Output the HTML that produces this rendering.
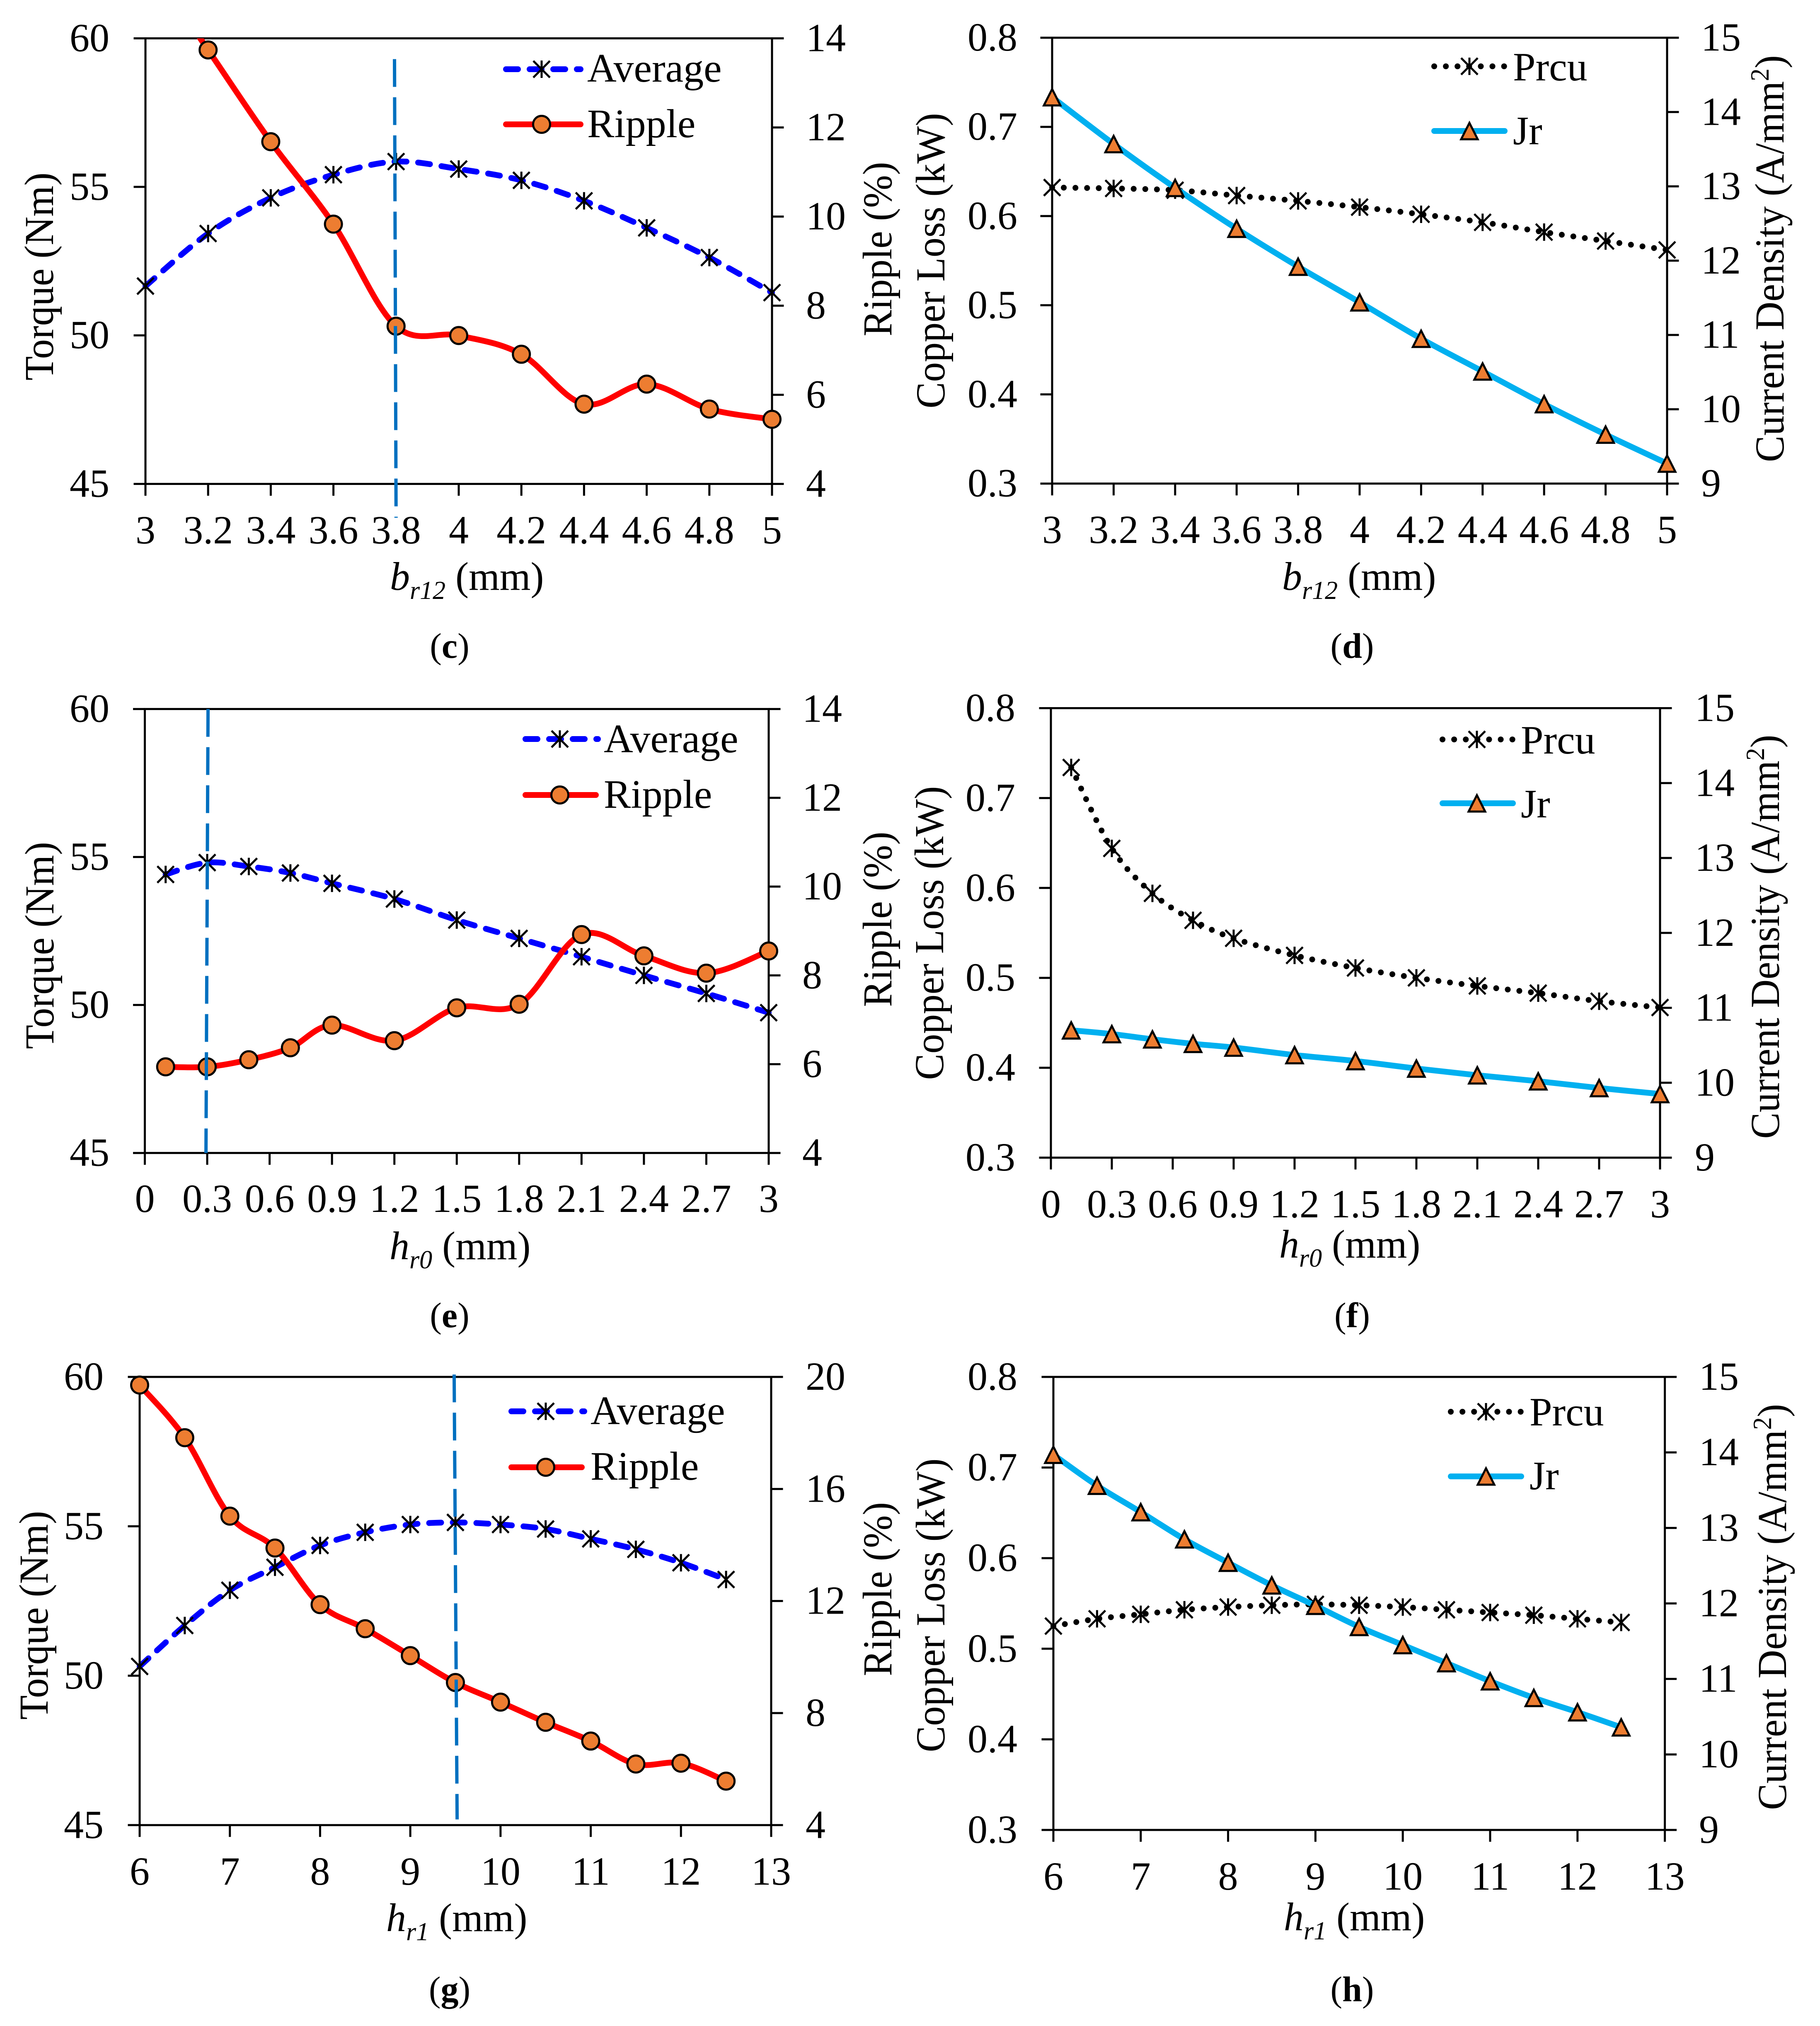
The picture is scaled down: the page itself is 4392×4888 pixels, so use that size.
<!DOCTYPE html>
<html lang="en">
<head>
<meta charset="utf-8">
<title>Torque, ripple, copper loss and current density parameter sweeps</title>
<style>
html,body{margin:0;padding:0;background:#fff}
svg{display:block}
text{font-family:"Liberation Serif",serif;fill:#000}
.t{font-size:96px}
.tt{font-size:100px}
.lg{font-size:98px}
.cap{font-size:86px}
.i{font-style:italic}
.b{font-weight:700}
</style>
</head>
<body>
<svg id="figure" xmlns="http://www.w3.org/2000/svg" width="4392" height="4888" viewBox="0 0 4392 4888">
<rect width="4392" height="4888" fill="#fff"/>

<g id="panel-c">
  <text class="tt" transform="translate(128,667) rotate(-90)" text-anchor="middle" textLength="502" lengthAdjust="spacingAndGlyphs">Torque (Nm)</text>
  <text class="tt" transform="translate(2151,601) rotate(-90)" text-anchor="middle" textLength="421" lengthAdjust="spacingAndGlyphs">Ripple (%)</text>
  <text class="t" x="941" y="1423"><tspan class="i">b</tspan><tspan class="i" font-size="62" dy="22">r12</tspan><tspan dy="-22"> (mm)</tspan></text>
  <text class="cap" x="1085" y="1587" text-anchor="middle">(<tspan class="b">c</tspan>)</text>
  <g>
    <line x1="1221" x2="1401" y1="167" y2="167" stroke="#0000ff" stroke-width="14" stroke-linecap="round" stroke-dasharray="29 28"/>
    <path transform="translate(1307,167)" d="M-20,-20L20,20M20,-20L-20,20M0,-21V21" stroke="#000" stroke-width="5" fill="none"/>
    <text class="lg" x="1417" y="197">Average</text>
    <line x1="1221" x2="1401" y1="300" y2="300" stroke="#ff0000" stroke-width="14" stroke-linecap="round"/>
    <circle cx="1307" cy="300" r="20.5" fill="#ed7d31" stroke="#000" stroke-width="5"/>
    <text class="lg" x="1417" y="331">Ripple</text>
  </g>
</g>

<g id="panel-d">
  <text class="tt" transform="translate(2279,629) rotate(-90)" text-anchor="middle" textLength="713" lengthAdjust="spacingAndGlyphs">Copper Loss (kW)</text>
  <text class="tt" transform="translate(4304,624) rotate(-90)" text-anchor="middle" textLength="982" lengthAdjust="spacingAndGlyphs">Current Density (A/mm<tspan font-size="64" dy="-36">2</tspan><tspan dy="36">)</tspan></text>
  <text class="t" x="3094" y="1423"><tspan class="i">b</tspan><tspan class="i" font-size="62" dy="22">r12</tspan><tspan dy="-22"> (mm)</tspan></text>
  <text class="cap" x="3263" y="1587" text-anchor="middle">(<tspan class="b">d</tspan>)</text>
  <g>
    <line x1="3461" x2="3634" y1="160" y2="160" stroke="#000" stroke-width="14" stroke-linecap="round" stroke-dasharray="0.1 28"/>
    <path transform="translate(3546,160)" d="M-20,-20L20,20M20,-20L-20,20M0,-21V21" stroke="#000" stroke-width="5" fill="none"/>
    <text class="lg" x="3651" y="194">Prcu</text>
    <line x1="3461" x2="3631" y1="316" y2="316" stroke="#00b0f0" stroke-width="14" stroke-linecap="round"/>
    <polygon transform="translate(3546,316)" points="0,-19.5 20,20 -20,20" fill="#ed7d31" stroke="#000" stroke-width="5"/>
    <text class="lg" x="3651" y="348">Jr</text>
  </g>
</g>

<g id="panel-e">
  <text class="tt" transform="translate(129,2281) rotate(-90)" text-anchor="middle" textLength="500" lengthAdjust="spacingAndGlyphs">Torque (Nm)</text>
  <text class="tt" transform="translate(2151,2218) rotate(-90)" text-anchor="middle" textLength="423" lengthAdjust="spacingAndGlyphs">Ripple (%)</text>
  <text class="t" x="940" y="3038"><tspan class="i">h</tspan><tspan class="i" font-size="62" dy="22">r0</tspan><tspan dy="-22"> (mm)</tspan></text>
  <text class="cap" x="1085" y="3202" text-anchor="middle">(<tspan class="b">e</tspan>)</text>
  <g>
    <line x1="1268" x2="1443" y1="1783" y2="1783" stroke="#0000ff" stroke-width="14" stroke-linecap="round" stroke-dasharray="29 28"/>
    <path transform="translate(1351,1783)" d="M-20,-20L20,20M20,-20L-20,20M0,-21V21" stroke="#000" stroke-width="5" fill="none"/>
    <text class="lg" x="1457" y="1815">Average</text>
    <line x1="1268" x2="1438" y1="1918" y2="1918" stroke="#ff0000" stroke-width="14" stroke-linecap="round"/>
    <circle cx="1351" cy="1918" r="20.5" fill="#ed7d31" stroke="#000" stroke-width="5"/>
    <text class="lg" x="1457" y="1949">Ripple</text>
  </g>
</g>

<g id="panel-f">
  <text class="tt" transform="translate(2276,2251) rotate(-90)" text-anchor="middle" textLength="709" lengthAdjust="spacingAndGlyphs">Copper Loss (kW)</text>
  <text class="tt" transform="translate(4293,2260) rotate(-90)" text-anchor="middle" textLength="975" lengthAdjust="spacingAndGlyphs">Current Density (A/mm<tspan font-size="64" dy="-36">2</tspan><tspan dy="36">)</tspan></text>
  <text class="t" x="3087" y="3034"><tspan class="i">h</tspan><tspan class="i" font-size="62" dy="22">r0</tspan><tspan dy="-22"> (mm)</tspan></text>
  <text class="cap" x="3263" y="3202" text-anchor="middle">(<tspan class="b">f</tspan>)</text>
  <g>
    <line x1="3481" x2="3654" y1="1784" y2="1784" stroke="#000" stroke-width="14" stroke-linecap="round" stroke-dasharray="0.1 28"/>
    <path transform="translate(3564,1784)" d="M-20,-20L20,20M20,-20L-20,20M0,-21V21" stroke="#000" stroke-width="5" fill="none"/>
    <text class="lg" x="3670" y="1818">Prcu</text>
    <line x1="3481" x2="3651" y1="1938" y2="1938" stroke="#00b0f0" stroke-width="14" stroke-linecap="round"/>
    <polygon transform="translate(3564,1938)" points="0,-19.5 20,20 -20,20" fill="#ed7d31" stroke="#000" stroke-width="5"/>
    <text class="lg" x="3670" y="1972">Jr</text>
  </g>
</g>

<g id="panel-g">
  <text class="tt" transform="translate(115,3897) rotate(-90)" text-anchor="middle" textLength="504" lengthAdjust="spacingAndGlyphs">Torque (Nm)</text>
  <text class="tt" transform="translate(2151,3834) rotate(-90)" text-anchor="middle" textLength="420" lengthAdjust="spacingAndGlyphs">Ripple (%)</text>
  <text class="t" x="932" y="4659"><tspan class="i">h</tspan><tspan class="i" font-size="62" dy="22">r1</tspan><tspan dy="-22"> (mm)</tspan></text>
  <text class="cap" x="1085" y="4828" text-anchor="middle">(<tspan class="b">g</tspan>)</text>
  <g>
    <line x1="1234" x2="1410" y1="3405" y2="3405" stroke="#0000ff" stroke-width="14" stroke-linecap="round" stroke-dasharray="29 28"/>
    <path transform="translate(1317,3405)" d="M-20,-20L20,20M20,-20L-20,20M0,-21V21" stroke="#000" stroke-width="5" fill="none"/>
    <text class="lg" x="1425" y="3436">Average</text>
    <line x1="1234" x2="1404" y1="3540" y2="3540" stroke="#ff0000" stroke-width="14" stroke-linecap="round"/>
    <circle cx="1317" cy="3540" r="20.5" fill="#ed7d31" stroke="#000" stroke-width="5"/>
    <text class="lg" x="1425" y="3570">Ripple</text>
  </g>
</g>

<g id="panel-h">
  <text class="tt" transform="translate(2279,3873) rotate(-90)" text-anchor="middle" textLength="709" lengthAdjust="spacingAndGlyphs">Copper Loss (kW)</text>
  <text class="tt" transform="translate(4310,3877) rotate(-90)" text-anchor="middle" textLength="980" lengthAdjust="spacingAndGlyphs">Current Density (A/mm<tspan font-size="64" dy="-36">2</tspan><tspan dy="36">)</tspan></text>
  <text class="t" x="3098" y="4657"><tspan class="i">h</tspan><tspan class="i" font-size="62" dy="22">r1</tspan><tspan dy="-22"> (mm)</tspan></text>
  <text class="cap" x="3263" y="4828" text-anchor="middle">(<tspan class="b">h</tspan>)</text>
  <g>
    <line x1="3501" x2="3674" y1="3406" y2="3406" stroke="#000" stroke-width="14" stroke-linecap="round" stroke-dasharray="0.1 28"/>
    <path transform="translate(3586,3406)" d="M-20,-20L20,20M20,-20L-20,20M0,-21V21" stroke="#000" stroke-width="5" fill="none"/>
    <text class="lg" x="3691" y="3439">Prcu</text>
    <line x1="3501" x2="3671" y1="3562" y2="3562" stroke="#00b0f0" stroke-width="14" stroke-linecap="round"/>
    <polygon transform="translate(3586,3562)" points="0,-19.5 20,20 -20,20" fill="#ed7d31" stroke="#000" stroke-width="5"/>
    <text class="lg" x="3691" y="3593">Jr</text>
  </g>
</g>
</svg>

<script>
// ---- chart data ----
const xTicksBr = [3, 3.2, 3.4, 3.6, 3.8, 4, 4.2, 4.4, 4.6, 4.8, 5];
const xTicksHr0 = [0, 0.3, 0.6, 0.9, 1.2, 1.5, 1.8, 2.1, 2.4, 2.7, 3];
const xTicksHr1 = [6, 7, 8, 9, 10, 11, 12, 13];

const torqueTicks = [45, 50, 55, 60];
const rippleTicks14 = [4, 6, 8, 10, 12, 14];
const rippleTicks20 = [4, 8, 12, 16, 20];
const copperTicks = [0.3, 0.4, 0.5, 0.6, 0.7, 0.8];
const densityTicks = [9, 10, 11, 12, 13, 14, 15];

const brValues = [3, 3.2, 3.4, 3.6, 3.8, 4, 4.2, 4.4, 4.6, 4.8, 5];
const hr0Values = [0.1, 0.3, 0.5, 0.7, 0.9, 1.2, 1.5, 1.8, 2.1, 2.4, 2.7, 3];
const hr1Values = [6, 6.5, 7, 7.5, 8, 8.5, 9, 9.5, 10, 10.5, 11, 11.5, 12, 12.5];

const averageC = [51.66, 53.43, 54.63, 55.41, 55.85, 55.6, 55.22, 54.53, 53.62, 52.62, 51.44];
const rippleC = [15.8, 13.74, 11.68, 9.83, 7.54, 7.33, 6.91, 5.79, 6.24, 5.68, 5.45];
const prcuD = [0.632, 0.631, 0.629, 0.623, 0.617, 0.61, 0.602, 0.593, 0.582, 0.572, 0.562];
const jrD = [14.2, 13.57, 12.98, 12.43, 11.92, 11.44, 10.95, 10.51, 10.07, 9.66, 9.27];

const averageE = [54.41, 54.81, 54.68, 54.46, 54.11, 53.58, 52.87, 52.25, 51.63, 51.0, 50.39, 49.74];
const rippleE = [5.94, 5.94, 6.1, 6.37, 6.88, 6.53, 7.27, 7.35, 8.92, 8.44, 8.05, 8.55];
const prcuF = [0.734, 0.644, 0.594, 0.564, 0.544, 0.525, 0.511, 0.5, 0.491, 0.483, 0.474, 0.467];
const jrF = [10.7, 10.65, 10.58, 10.52, 10.47, 10.37, 10.29, 10.19, 10.1, 10.02, 9.93, 9.85];

const averageG = [50.31, 51.68, 52.86, 53.63, 54.36, 54.8, 55.06, 55.13, 55.06, 54.91, 54.58, 54.23, 53.78, 53.22];
const rippleG = [19.71, 17.83, 15.03, 13.89, 11.87, 11.01, 10.05, 9.09, 8.39, 7.67, 7.0, 6.18, 6.21, 5.57];
const prcuH = [0.525, 0.533, 0.538, 0.543, 0.546, 0.548, 0.549, 0.548, 0.546, 0.543, 0.54, 0.537, 0.533, 0.529];
const jrH = [13.97, 13.56, 13.21, 12.85, 12.54, 12.24, 11.97, 11.69, 11.45, 11.21, 10.97, 10.75, 10.56, 10.36];

// optimum-marker lines: [xTop, torqueTop, xBottom, torqueBottom]
const optimumC = [3.795, 59.3, 3.8, 43.86];
const optimumE = [0.304, 60, 0.294, 45];
const optimumG = [9.486, 60.08, 9.519, 45.19];

// ---- layout ----
const panelSpecs = [
  {id:'panel-c', box:{L:351,R:1863,T:92.5,B:1167.5}, leftLabelX:264, rightLabelX:1945, xLabelY:1311,
   xDomain:[3,5], xTicks:xTicksBr, xs:brValues,
   leftDomain:[45,60], leftTicks:torqueTicks, rightDomain:[4,14], rightTicks:rippleTicks14,
   kind:'torque', left:averageC, right:rippleC, optimum:optimumC},
  {id:'panel-d', box:{L:2539,R:4023,T:91,B:1166.7}, leftLabelX:2455, rightLabelX:4105, xLabelY:1310,
   xDomain:[3,5], xTicks:xTicksBr, xs:brValues,
   leftDomain:[0.3,0.8], leftTicks:copperTicks, rightDomain:[9,15], rightTicks:densityTicks,
   kind:'loss', left:prcuD, right:jrD},
  {id:'panel-e', box:{L:349.5,R:1855,T:1710.6,B:2781.7}, leftLabelX:264, rightLabelX:1936, xLabelY:2924,
   xDomain:[0,3], xTicks:xTicksHr0, xs:hr0Values,
   leftDomain:[45,60], leftTicks:torqueTicks, rightDomain:[4,14], rightTicks:rippleTicks14,
   kind:'torque', left:averageE, right:rippleE, optimum:optimumE},
  {id:'panel-f', box:{L:2536,R:4006,T:1708.5,B:2793}, leftLabelX:2450, rightLabelX:4090, xLabelY:2937,
   xDomain:[0,3], xTicks:xTicksHr0, xs:hr0Values,
   leftDomain:[0.3,0.8], leftTicks:copperTicks, rightDomain:[9,15], rightTicks:densityTicks,
   kind:'loss', left:prcuF, right:jrF},
  {id:'panel-g', box:{L:337,R:1861,T:3322,B:4403.3}, leftLabelX:250, rightLabelX:1944, xLabelY:4547,
   xDomain:[6,13], xTicks:xTicksHr1, xs:hr1Values,
   leftDomain:[45,60], leftTicks:torqueTicks, rightDomain:[4,20], rightTicks:rippleTicks20,
   kind:'torque', left:averageG, right:rippleG, optimum:optimumG},
  {id:'panel-h', box:{L:2542,R:4017.6,T:3322,B:4415}, leftLabelX:2455, rightLabelX:4100, xLabelY:4559,
   xDomain:[6,13], xTicks:xTicksHr1, xs:hr1Values,
   leftDomain:[0.3,0.8], leftTicks:copperTicks, rightDomain:[9,15], rightTicks:densityTicks,
   kind:'loss', left:prcuH, right:jrH}
];

const NS = 'http://www.w3.org/2000/svg';
const TICK = 28.5;

function make(tag, attrs, parent) {
  const el = document.createElementNS(NS, tag);
  for (const k in attrs) el.setAttribute(k, attrs[k]);
  parent.appendChild(el);
  return el;
}
function scale(domain, r0, r1) {
  return v => r0 + (v - domain[0]) / (domain[1] - domain[0]) * (r1 - r0);
}
function smoothPath(pts) {
  let d = 'M' + pts[0][0].toFixed(1) + ',' + pts[0][1].toFixed(1);
  for (let i = 0; i < pts.length - 1; i++) {
    const p0 = pts[Math.max(0, i - 1)], p1 = pts[i], p2 = pts[i + 1], p3 = pts[Math.min(pts.length - 1, i + 2)];
    const c1x = p1[0] + (p2[0] - p0[0]) / 6, c1y = p1[1] + (p2[1] - p0[1]) / 6;
    const c2x = p2[0] - (p3[0] - p1[0]) / 6, c2y = p2[1] - (p3[1] - p1[1]) / 6;
    d += 'C' + c1x.toFixed(1) + ',' + c1y.toFixed(1) + ' ' + c2x.toFixed(1) + ',' + c2y.toFixed(1) + ' ' + p2[0].toFixed(1) + ',' + p2[1].toFixed(1);
  }
  return d;
}
function drawAsterisk(g, x, y) {
  const m = make('path', {transform:'translate(' + x + ',' + y + ')', d:'M-20,-20L20,20M20,-20L-20,20M0,-21V21', stroke:'#000', 'stroke-width':5, fill:'none'}, g);
  
  
}
function drawCircle(g, x, y) {
  const m = make('circle', {cx:x, cy:y, r:20.5, fill:'#ed7d31', stroke:'#000', 'stroke-width':5}, g);
  
  
}
function drawTriangle(g, x, y) {
  const m = make('polygon', {transform:'translate(' + x + ',' + y + ')', points:'0,-19.5 20,20 -20,20', fill:'#ed7d31', stroke:'#000', 'stroke-width':5}, g);
  
  
}
function drawSeries(g, spec, xScale, yScale, values, domain, style, drawMarker, clipId) {
  const pts = spec.xs.map((v, i) => [xScale(v), yScale(values[i])]);
  const attrs = {d:smoothPath(pts), fill:'none', stroke:style.color, 'stroke-width':14, 'stroke-linecap':'round', 'clip-path':'url(#' + clipId + ')'};
  if (style.dash) attrs['stroke-dasharray'] = style.dash;
  const line = make('path', attrs, g);
  
  
  spec.xs.forEach((v, i) => {
    if (values[i] <= domain[1]) drawMarker(g, pts[i][0], pts[i][1]);
  });
}

panelSpecs.forEach(spec => {
  const host = document.getElementById(spec.id);
  const b = spec.box;
  const xScale = scale(spec.xDomain, b.L, b.R);
  const yLeft = scale(spec.leftDomain, b.B, b.T);
  const yRight = scale(spec.rightDomain, b.B, b.T);

  const clipId = spec.id + '-clip';
  const clip = make('clipPath', {id:clipId}, host);
  make('rect', {x:0, y:b.T, width:4392, height:4888 - b.T}, clip);

  const axes = make('g', {stroke:'#000', 'stroke-width':5, fill:'none'}, host);
  
  

  const frame = make('rect', {x:b.L, y:b.T, width:b.R - b.L, height:b.B - b.T}, axes);
  
  

  spec.xTicks.forEach(v => {
    const x = xScale(v);
    const tick = make('line', {x1:x, x2:x, y1:b.B, y2:b.B + TICK}, axes);
    
    
    const label = make('text', {class:'t', x:x, y:spec.xLabelY, 'text-anchor':'middle'}, host);
    label.textContent = String(v);
    
    
  });
  spec.leftTicks.forEach(v => {
    const y = yLeft(v);
    const tick = make('line', {x1:b.L - TICK, x2:b.L, y1:y, y2:y}, axes);
    
    
    const label = make('text', {class:'t', x:spec.leftLabelX, y:y + 31, 'text-anchor':'end'}, host);
    label.textContent = String(v);
    
    
  });
  spec.rightTicks.forEach(v => {
    const y = yRight(v);
    const tick = make('line', {x1:b.R, x2:b.R + TICK, y1:y, y2:y}, axes);
    
    
    const label = make('text', {class:'t', x:spec.rightLabelX, y:y + 31, 'text-anchor':'start'}, host);
    label.textContent = String(v);
    
    
  });

  const plot = make('g', {}, host);
  
  
  if (spec.kind === 'torque') {
    drawSeries(plot, spec, xScale, yLeft, spec.left, spec.leftDomain, {name:'average', color:'#0000ff', dash:'29 28'}, drawAsterisk, clipId);
    drawSeries(plot, spec, xScale, yRight, spec.right, spec.rightDomain, {name:'ripple', color:'#ff0000'}, drawCircle, clipId);
  } else {
    drawSeries(plot, spec, xScale, yLeft, spec.left, spec.leftDomain, {name:'prcu', color:'#000000', dash:'0.1 28'}, drawAsterisk, clipId);
    drawSeries(plot, spec, xScale, yRight, spec.right, spec.rightDomain, {name:'jr', color:'#00b0f0'}, drawTriangle, clipId);
  }
  if (spec.optimum) {
    const o = spec.optimum;
    const opt = make('line', {x1:xScale(o[0]), y1:yLeft(o[1]), x2:xScale(o[2]), y2:yLeft(o[3]), stroke:'#0070c0', 'stroke-width':8, 'stroke-dasharray':'67 25'}, plot);
    
    
  }
});
</script>
</body>
</html>
